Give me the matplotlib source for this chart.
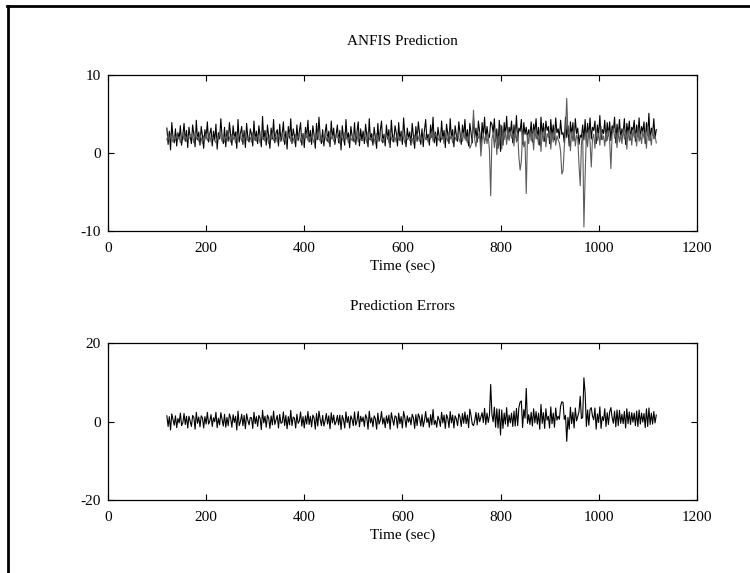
import numpy as np
import matplotlib
matplotlib.use("Agg")
import matplotlib.pyplot as plt
from matplotlib.lines import Line2D

# time axis: one sample every 2.5 sec starting at 120 sec
t_start = 120
t_step = 2.5

actual = [
    3.2, 1.1, 2.8, 0.4, 3.9, 2.0, 1.3, 3.1, 0.9, 2.6, 1.8, 3.5, 1.0, 2.3, 3.8, 1.5, 2.9, 0.7, 3.3, 2.1,
    1.2, 3.6, 2.4, 0.8, 4.2, 1.7, 2.7, 1.0, 3.4, 2.2, 0.6, 3.0, 1.9, 4.0, 1.4, 2.5, 3.2, 0.9, 2.8, 1.6,
    3.7, 0.5, 2.6, 1.8, 4.4, 2.1, 1.2, 3.3, 0.8, 2.9, 1.5, 3.9, 2.3, 1.0, 3.5, 1.9, 2.7, 0.6, 4.3, 1.4,
    2.5, 3.4, 1.1, 2.9, 0.7, 3.8, 2.0, 1.4, 3.1, 2.4, 0.9, 4.1, 1.6, 2.8, 1.2, 3.5, 2.2, 0.8, 4.7, 1.7,
    2.9, 1.0, 3.6, 2.1, 0.6, 3.2, 1.8, 4.3, 1.3, 2.6, 3.0, 0.9, 3.7, 1.5, 2.4, 4.0, 1.1, 2.8, 0.5, 3.4,
    1.9, 4.4, 1.2, 3.1, 2.2, 0.8, 3.6, 1.6, 2.7, 3.9, 1.0, 2.5, 0.7, 3.3, 2.0, 4.2, 1.4, 2.9, 1.1, 3.5,
    2.3, 0.6, 3.8, 1.7, 4.6, 2.1, 1.2, 3.0, 0.9, 2.6, 3.7, 1.5, 2.8, 0.8, 4.1, 1.9, 3.2, 1.1, 2.4, 3.6,
    1.3, 2.9, 0.4, 3.5, 2.0, 1.0, 4.3, 1.8, 2.6, 0.7, 3.4, 2.2, 1.5, 3.9, 1.1, 2.7, 4.0, 0.9, 3.1, 1.6,
    2.8, 1.2, 3.7, 2.3, 0.8, 4.4, 1.7, 2.5, 1.0, 3.3, 2.0, 0.6, 3.8, 1.5, 2.9, 4.1, 1.3, 2.4, 0.9, 3.6,
    1.8, 3.0, 0.7, 4.2, 2.1, 1.4, 3.5, 2.6, 0.9, 3.9, 1.6, 2.8, 1.1, 4.5, 2.3, 0.8, 3.2, 1.9, 2.7, 1.0,
    3.8, 2.2, 0.6, 3.4, 1.5, 4.0, 2.6, 1.1, 3.1, 0.8, 2.9, 4.3, 1.7, 2.4, 1.0, 3.6, 2.0, 4.6, 1.3, 2.7,
    0.9, 3.3, 2.1, 1.4, 4.1, 1.8, 2.9, 0.7, 3.7, 2.4, 1.2, 4.4, 1.9, 3.0, 0.8, 3.5, 2.3, 1.5, 4.0, 2.6,
    1.1, 3.6, 2.2, 4.3, 1.6, 3.0, 0.9, 3.8, 2.5, 1.3, 4.5, 2.0, 3.2, 1.4, 4.1, 2.7, 0.8, 3.9, 2.3, 4.6,
    1.7, 3.4, 2.1, 2.0, 4.0, 3.7, 2.6, 4.4, 1.5, 3.1, 0.6, 4.2, 0.2, 3.5, 1.0, 3.9, 2.2, 4.7, 1.8, 3.3,
    2.5, 4.1, 1.3, 3.6, 2.0, 4.8, 1.6, 3.2, 2.8, 4.3, 1.1, 3.9, 2.4, 3.3, 1.9, 3.0, 2.2, 4.0, 1.4, 3.7,
    2.7, 4.4, 1.8, 3.3, 1.0, 4.6, 2.3, 3.8, 1.5, 4.1, 2.9, 3.4, 1.2, 4.3, 2.1, 3.6, 1.7, 4.5, 2.6, 3.1,
    1.9, 4.2, 2.4, 2.6, 1.3, 4.6, 2.0, 3.5, 0.9, 4.0, 2.2, 3.9, 1.6, 4.4, 2.5, 3.2, 1.1, 2.3, 2.0, 3.6,
    1.7, 4.3, 1.4, 3.8, 2.1, 4.5, 1.8, 3.3, 2.9, 4.1, 1.2, 3.6, 2.3, 4.8, 1.7, 3.0, 2.5, 4.2, 1.5, 3.9,
    2.2, 4.0, 1.6, 3.5, 2.8, 4.6, 1.3, 3.7, 2.0, 4.3, 1.9, 3.1, 2.6, 4.4, 1.1, 3.8, 2.4, 4.1, 1.7, 3.3,
    2.9, 4.2, 1.5, 3.6, 2.1, 4.5, 1.8, 3.4, 2.7, 4.0, 1.2, 3.9, 2.3, 5.1, 1.6, 3.2, 2.5, 4.4, 1.9, 3.0,
]

# ANFIS output
predicted = [
    1.7, 2.3, 1.5, 2.5, 1.9, 1.4, 2.2, 1.6, 2.4, 1.8, 2.1, 1.3, 2.0, 2.6, 1.7, 2.2, 1.5, 2.3, 1.9, 2.0,
    2.4, 2.0, 1.3, 2.7, 1.8, 2.1, 1.5, 2.3, 1.9, 1.2, 2.2, 1.7, 2.5, 1.6, 2.0, 2.3, 1.4, 2.1, 1.8, 1.6,
    1.3, 2.0, 1.7, 2.6, 2.1, 1.5, 2.3, 1.4, 2.2, 1.8, 2.5, 1.9, 1.4, 2.4, 1.7, 2.1, 1.3, 2.7, 1.6, 2.4,
    2.4, 1.5, 2.1, 1.3, 2.5, 1.8, 1.6, 2.2, 2.0, 1.4, 2.6, 1.7, 2.1, 1.5, 2.4, 1.9, 1.3, 2.8, 1.8, 2.0,
    1.5, 2.4, 1.9, 1.2, 2.3, 1.7, 2.6, 1.6, 2.0, 2.2, 1.4, 2.5, 1.8, 1.9, 2.6, 1.5, 2.1, 1.2, 2.3, 2.1,
    2.7, 1.5, 2.2, 1.9, 1.3, 2.4, 1.7, 2.0, 2.5, 1.4, 2.1, 1.2, 2.3, 1.8, 2.6, 1.6, 2.1, 1.5, 2.4, 1.8,
    1.3, 2.5, 1.7, 2.8, 1.9, 1.5, 2.2, 1.4, 2.0, 2.4, 1.6, 2.1, 1.3, 2.6, 1.8, 2.2, 1.5, 1.9, 2.4, 2.0,
    2.1, 1.2, 2.4, 1.9, 1.5, 2.6, 1.8, 2.0, 1.3, 2.3, 1.9, 1.6, 2.5, 1.4, 2.0, 2.5, 1.4, 2.2, 1.7, 1.6,
    1.6, 2.4, 1.9, 1.3, 2.7, 1.7, 2.0, 1.5, 2.3, 1.8, 1.2, 2.5, 1.6, 2.1, 2.6, 1.5, 1.9, 1.4, 2.4, 2.1,
    2.2, 1.3, 2.6, 1.9, 1.5, 2.3, 2.0, 1.4, 2.5, 1.7, 2.1, 1.5, 2.7, 1.9, 1.3, 2.2, 1.7, 2.0, 1.6, 1.8,
    1.9, 1.2, 2.3, 1.6, 2.5, 2.0, 1.5, 2.2, 1.3, 2.1, 2.6, 1.7, 1.9, 1.4, 2.4, 1.8, 2.8, 1.5, 2.0, 2.4,
    2.3, 1.9, 1.6, 2.6, 1.7, 2.1, 1.2, 2.4, 1.9, 1.5, 2.7, 1.8, 2.2, 1.3, 2.4, 2.0, 1.6, 2.5, 2.0, 1.4,
    2.3, 1.5, 2.6, 1.8, 2.1, 1.3, 2.4, 0.6, 1.0, 1.9, 5.5, 1.7, 0.8, 2.2, 1.9, 2.7, -0.4, 1.6, 2.5, 1.2,
    2.4, 1.2, 2.3, 0.3, -5.5, 1.8, 2.6, 0.7, 2.9, -0.2, 2.2, 1.0, 3.6, 0.5, 2.7, 1.7, 2.8, 1.1, 3.0, 1.6,
    2.8, 1.9, 2.5, 0.9, 3.1, 1.4, 2.6, -0.5, -2.2, -1.0, 2.6, 0.8, 1.5, -5.2, 2.3, 1.2, 2.9, 1.6, 2.5, 0.4,
    3.0, 1.8, 2.4, 1.1, 2.9, 0.2, 2.7, 1.5, 3.2, 0.8, 2.5, 2.0, 2.8, 0.5, 2.6, 1.4, 3.1, 1.0, 2.2, 1.7,
    1.3, 0.2, -2.7, -2.3, 0.7, 3.0, 7.0, 2.4, 2.8, 0.3, 2.7, 1.5, 3.2, 0.9, 2.3, 1.8, -1.5, -4.2, 1.2, 2.5,
    -9.5, -3.0, 2.6, 0.8, 3.0, 1.4, -1.8, 1.9, 2.4, 0.6, 3.1, 1.6, 2.5, 1.0, 3.4, 1.7, 2.2, 0.9, 2.7, 1.6,
    2.9, 1.5, -2.0, 2.4, 3.2, 1.9, 2.6, 0.7, 3.0, 1.4, 2.3, 1.2, 3.1, 1.8, 2.7, 0.5, 2.9, 1.6, 2.4, 1.0,
    3.0, 2.0, 2.5, 0.9, 3.3, 1.5, 2.4, 1.2, 2.8, 1.9, 2.7, 0.6, 3.5, 1.6, 2.3, 1.0, 3.1, 1.8, 2.2, 1.3,
]

x_ticks = [0, 200, 400, 600, 800, 1000, 1200]

plt.rcParams['font.family'] = ['Liberation Serif', 'DejaVu Serif']
plt.rcParams['font.size'] = 11
plt.rcParams['axes.unicode_minus'] = False

time = t_start + t_step * np.arange(len(actual))
actual = np.array(actual)
predicted = np.array(predicted)
errors = actual - predicted

fig = plt.figure(figsize=(7.5, 5.73), dpi=100)
ax1 = fig.add_axes([0.144, 0.597, 0.785, 0.272])
ax2 = fig.add_axes([0.144, 0.127, 0.785, 0.274])

ax1.plot(time, actual, color='black', lw=0.8)
ax1.plot(time, predicted, color='#5c5c5c', lw=0.8)
ax1.set_ylim(-10, 10)
ax1.set_yticks([-10, 0, 10])
ax1.set_title('ANFIS Prediction', fontsize=11, pad=22)

ax2.plot(time, errors, color='black', lw=0.8)
ax2.set_ylim(-20, 20)
ax2.set_yticks([-20, 0, 20])
ax2.set_title('Prediction Errors', fontsize=11, pad=24)

for ax in (ax1, ax2):
    ax.set_xlim(0, 1200)
    ax.set_xticks(x_ticks)
    ax.set_xlabel('Time (sec)', labelpad=3)
    ax.tick_params(direction='in', top=True, right=True, length=4, width=0.8)
    ax.tick_params(axis='x', pad=8)
    ax.tick_params(axis='y', pad=5)
    for sp in ax.spines.values():
        sp.set_linewidth(0.9)

# frame lines at the top and left of the page
fig.add_artist(Line2D([0.009, 1.0], [0.99, 0.99], transform=fig.transFigure, color='black', lw=2))
fig.add_artist(Line2D([0.011, 0.011], [0.0, 0.99], transform=fig.transFigure, color='black', lw=2))

fig.savefig('out.png', dpi=100)
